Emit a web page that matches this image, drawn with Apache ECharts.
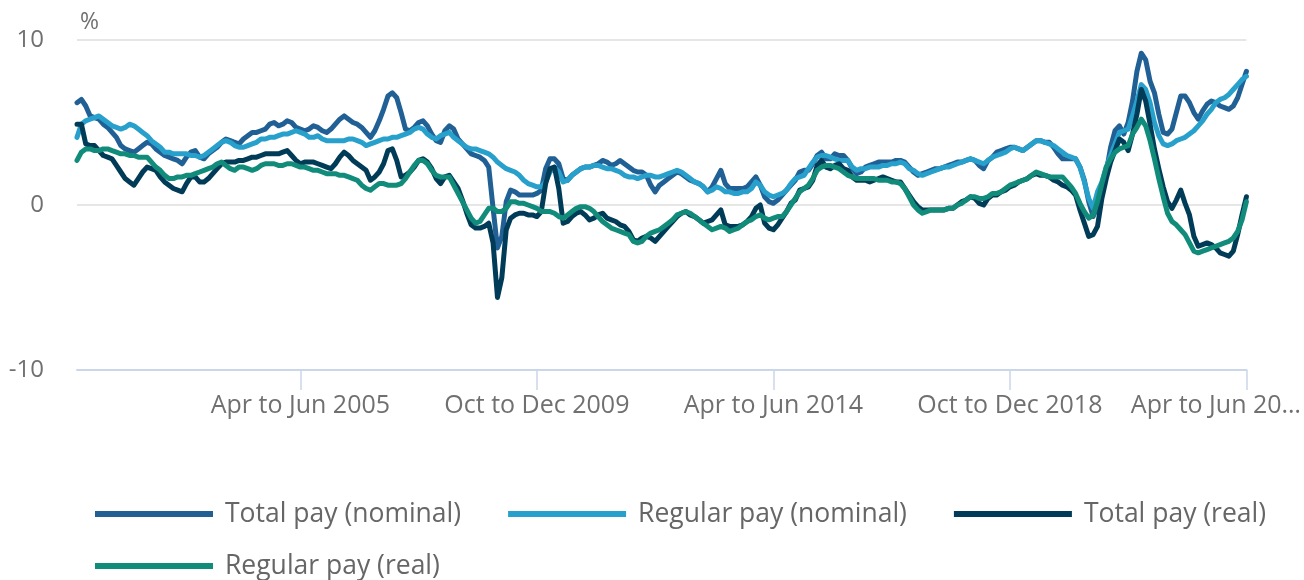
<!DOCTYPE html>
<html>
<head>
<meta charset="utf-8">
<title>Earnings growth</title>
<script src="https://cdn.jsdelivr.net/npm/echarts@6/dist/echarts.min.js"></script>
<style>
  html, body { margin: 0; padding: 0; background: #fff; }
  #chart { width: 1304px; height: 580px; }
</style>
</head>
<body>
<div id="chart"></div>
<script>
// 月份与起止年份（三个月滚动期，从 Jan to Mar 2001 到 Apr to Jun 2023）
var months = ['Jan', 'Feb', 'Mar', 'Apr', 'May', 'Jun', 'Jul', 'Aug', 'Sep', 'Oct', 'Nov', 'Dec'];
var firstYear = 2001;
var periodCount = 268;

// 各序列（%），每行 12 个月
var totalNominal = [
  6.2, 6.4, 6.0, 5.4, 5.3, 5.2, 4.9, 4.7, 4.4, 4.1, 3.6, 3.4,
  3.3, 3.2, 3.4, 3.6, 3.8, 3.7, 3.4, 3.2, 3.0, 2.9, 2.8, 2.7,
  2.5, 2.9, 3.2, 3.3, 2.9, 2.8, 3.1, 3.3, 3.5, 3.8, 4.0, 3.9,
  3.8, 3.7, 4.0, 4.2, 4.4, 4.4, 4.5, 4.6, 4.9, 5.0, 4.8, 4.9,
  5.1, 5.0, 4.7, 4.6, 4.5, 4.6, 4.8, 4.7, 4.5, 4.4, 4.6, 4.9,
  5.2, 5.4, 5.2, 5.0, 4.9, 4.7, 4.4, 4.1, 4.5, 5.1, 5.8, 6.6,
  6.8, 6.5, 5.6, 4.6, 4.5, 4.7, 5.0, 5.1, 4.8, 4.3, 3.9, 3.8,
  4.5, 4.8, 4.6, 4.0, 3.7, 3.4, 3.1, 3.0, 2.9, 2.7, 2.3, -0.2,
  -2.6, -1.9, 0.2, 0.9, 0.8, 0.6, 0.6, 0.6, 0.6, 0.7, 0.9, 2.2,
  2.8, 2.8, 2.5, 1.6, 1.5, 1.8, 2.0, 2.2, 2.3, 2.3, 2.4, 2.5,
  2.7, 2.6, 2.4, 2.5, 2.7, 2.5, 2.3, 2.1, 2.0, 2.0, 1.8, 1.2,
  0.8, 1.2, 1.4, 1.6, 1.8, 2.0, 1.9, 1.7, 1.5, 1.4, 1.3, 1.1,
  0.8, 1.1, 1.6, 2.1, 1.3, 1.0, 1.0, 1.0, 1.0, 1.1, 1.4, 1.7,
  1.2, 0.5, 0.2, 0.1, 0.3, 0.6, 0.9, 1.2, 1.5, 2.0, 2.1, 2.1,
  2.5, 3.0, 3.2, 2.8, 2.8, 3.1, 3.0, 3.0, 2.7, 2.2, 1.9, 2.0,
  2.3, 2.4, 2.5, 2.6, 2.6, 2.6, 2.6, 2.7, 2.7, 2.6, 2.3, 2.0,
  1.8, 1.9, 2.0, 2.1, 2.2, 2.2, 2.3, 2.4, 2.5, 2.6, 2.6, 2.7,
  2.8, 2.7, 2.4, 2.2, 2.7, 2.9, 3.2, 3.3, 3.4, 3.5, 3.5, 3.4,
  3.3, 3.5, 3.7, 3.9, 3.9, 3.8, 3.8, 3.5, 3.1, 2.8, 2.8, 2.8,
  2.8, 2.3, 1.5, 0.2, -0.7, -0.1, 0.8, 2.0, 3.5, 4.5, 4.8, 4.3,
  5.0, 6.3, 8.1, 9.2, 8.8, 7.5, 6.8, 5.5, 4.4, 4.3, 4.6, 5.6,
  6.6, 6.6, 6.2, 5.6, 5.2, 5.7, 6.1, 6.3, 6.2, 6.0, 5.9, 5.8,
  6.0, 6.5, 7.3, 8.1
];
var regularNominal = [
  4.1, 4.9, 5.1, 5.2, 5.3, 5.4, 5.2, 5.0, 4.8, 4.7, 4.6, 4.7,
  4.9, 4.8, 4.6, 4.4, 4.2, 3.9, 3.7, 3.5, 3.2, 3.2, 3.1, 3.1,
  3.1, 3.1, 3.0, 3.0, 2.9, 3.0, 3.2, 3.4, 3.6, 3.8, 3.9, 3.8,
  3.6, 3.5, 3.5, 3.6, 3.7, 3.8, 4.0, 4.0, 4.1, 4.1, 4.2, 4.3,
  4.3, 4.4, 4.5, 4.4, 4.3, 4.1, 4.1, 4.2, 4.0, 3.9, 3.9, 3.9,
  3.9, 3.9, 4.0, 4.0, 3.9, 3.8, 3.6, 3.7, 3.8, 3.9, 4.0, 4.0,
  4.1, 4.1, 4.2, 4.3, 4.4, 4.6, 4.7, 4.6, 4.3, 4.1, 4.0, 4.2,
  4.3, 4.4, 4.1, 3.9, 3.7, 3.5, 3.4, 3.4, 3.3, 3.2, 3.1, 2.9,
  2.6, 2.4, 2.2, 2.1, 2.0, 1.8, 1.5, 1.3, 1.2, 1.1, 1.1, 1.4,
  2.0, 2.3, 2.0, 1.4, 1.5, 1.8, 2.0, 2.2, 2.3, 2.3, 2.4, 2.4,
  2.3, 2.2, 2.2, 2.1, 2.0, 1.8, 1.7, 1.7, 1.6, 1.7, 1.8, 1.8,
  1.7, 1.7, 1.8, 1.9, 2.0, 2.1, 2.0, 1.8, 1.6, 1.4, 1.3, 1.1,
  0.8, 0.9, 1.1, 1.0, 0.8, 0.8, 0.7, 0.7, 0.8, 0.8, 1.0, 1.4,
  1.2, 0.8, 0.6, 0.5, 0.6, 0.7, 0.9, 1.3, 1.6, 1.7, 1.8, 2.2,
  2.6, 2.9, 3.0, 3.0, 2.9, 2.8, 2.7, 2.7, 2.7, 2.3, 2.1, 2.2,
  2.2, 2.3, 2.3, 2.3, 2.4, 2.4, 2.5, 2.5, 2.6, 2.5, 2.2, 2.1,
  1.9, 1.8, 1.9, 2.0, 2.1, 2.2, 2.3, 2.3, 2.4, 2.5, 2.6, 2.7,
  2.8, 2.7, 2.6, 2.5, 2.7, 2.9, 3.0, 3.1, 3.2, 3.4, 3.5, 3.4,
  3.3, 3.5, 3.7, 3.9, 3.9, 3.8, 3.7, 3.6, 3.4, 3.2, 3.0, 2.9,
  2.8, 2.3, 1.4, 0.4, -0.2, 0.8, 1.4, 2.3, 3.0, 3.7, 4.4, 4.5,
  4.6, 5.4, 6.3, 7.3, 7.0, 6.2, 5.0, 4.2, 3.7, 3.6, 3.7, 3.9,
  4.0, 4.1, 4.3, 4.5, 4.8, 5.1, 5.5, 5.8, 6.2, 6.4, 6.5, 6.7,
  7.0, 7.3, 7.6, 7.8
];
var totalReal = [
  4.9, 4.9, 3.7, 3.6, 3.6, 3.3, 3.0, 2.9, 2.8, 2.4, 2.0, 1.6,
  1.4, 1.2, 1.6, 2.0, 2.3, 2.2, 2.1, 1.7, 1.4, 1.2, 1.0, 0.9,
  0.8, 1.3, 1.7, 1.7, 1.4, 1.4, 1.6, 1.9, 2.2, 2.5, 2.6, 2.6,
  2.6, 2.7, 2.7, 2.8, 2.9, 2.9, 3.0, 3.1, 3.1, 3.1, 3.1, 3.2,
  3.3, 3.0, 2.7, 2.5, 2.6, 2.6, 2.6, 2.5, 2.4, 2.3, 2.2, 2.5,
  2.9, 3.2, 3.0, 2.7, 2.5, 2.3, 2.1, 1.5, 1.7, 2.0, 2.5, 3.3,
  3.4, 2.7, 1.7, 1.8, 2.0, 2.3, 2.7, 2.8, 2.6, 2.2, 1.6, 1.3,
  1.7, 1.8, 1.4, 1.0, 0.3, -0.5, -1.2, -1.4, -1.4, -1.3, -1.1, -2.3,
  -5.6, -4.4, -1.5, -0.8, -0.6, -0.5, -0.5, -0.6, -0.6, -0.7, -0.4, 1.3,
  2.2, 2.3, 1.0, -1.1, -1.0, -0.7, -0.5, -0.4, -0.6, -0.9, -0.8, -0.6,
  -0.5, -0.8, -0.9, -1.0, -1.2, -1.3, -1.6, -2.1, -2.2, -2.0, -1.9, -2.0,
  -2.2, -1.9, -1.6, -1.3, -1.0, -0.7, -0.5, -0.4, -0.6, -0.7, -0.9, -1.1,
  -1.0, -0.9, -0.6, -0.3, -1.2, -1.3, -1.3, -1.3, -1.2, -1.0, -0.7, -0.2,
  0.0, -1.1, -1.4, -1.5, -1.2, -0.8, -0.4, 0.1, 0.3, 0.9, 1.0, 1.1,
  1.5, 2.4, 2.7, 2.3, 2.2, 2.4, 2.5, 2.2, 2.1, 1.7, 1.5, 1.5,
  1.5, 1.4, 1.5, 1.6, 1.7, 1.6, 1.5, 1.4, 1.4, 1.0, 0.6, 0.2,
  -0.1, -0.3, -0.3, -0.3, -0.3, -0.3, -0.3, -0.2, -0.2, 0.0, 0.2, 0.3,
  0.5, 0.4, 0.1, 0.0, 0.4, 0.6, 0.6, 0.8, 0.9, 1.1, 1.2, 1.4,
  1.5, 1.6, 1.8, 1.9, 1.8, 1.8, 1.7, 1.5, 1.4, 1.2, 1.1, 0.9,
  0.6, -0.3, -1.1, -1.9, -1.8, -1.3, 0.4, 1.6, 2.6, 3.3, 4.0, 3.8,
  3.3, 4.3, 5.5, 7.0, 6.3, 4.9, 3.4, 2.2, 1.1, 0.2, -0.2, 0.3,
  0.9, 0.1, -0.6, -1.9, -2.5, -2.4, -2.3, -2.4, -2.6, -2.9, -3.0, -3.1,
  -2.8, -1.8, -0.6, 0.5
];
var regularReal = [
  2.7, 3.2, 3.4, 3.4, 3.3, 3.3, 3.4, 3.4, 3.3, 3.2, 3.1, 3.1,
  3.0, 3.0, 2.9, 2.9, 2.9, 2.6, 2.3, 2.1, 1.8, 1.6, 1.6, 1.7,
  1.7, 1.8, 1.8, 1.9, 2.0, 2.1, 2.2, 2.3, 2.5, 2.6, 2.4, 2.2,
  2.1, 2.3, 2.3, 2.2, 2.1, 2.2, 2.4, 2.5, 2.5, 2.5, 2.4, 2.4,
  2.5, 2.5, 2.4, 2.3, 2.3, 2.2, 2.1, 2.1, 2.0, 1.9, 1.9, 1.9,
  1.8, 1.8, 1.7, 1.6, 1.5, 1.2, 1.0, 0.9, 1.1, 1.3, 1.3, 1.2,
  1.2, 1.2, 1.3, 1.6, 2.0, 2.4, 2.7, 2.7, 2.5, 2.1, 1.8, 1.7,
  1.7, 1.7, 1.2, 0.7, 0.2, -0.3, -0.8, -1.1, -1.0, -0.6, -0.2, -0.2,
  -0.4, -0.4, -0.2, 0.2, 0.2, 0.1, 0.1, 0.0, -0.1, -0.2, -0.4, -0.4,
  -0.4, -0.5, -0.7, -0.8, -0.6, -0.4, -0.2, -0.1, -0.1, -0.2, -0.4, -0.7,
  -1.0, -1.2, -1.4, -1.5, -1.6, -1.7, -1.8, -2.2, -2.3, -2.2, -1.9, -1.7,
  -1.6, -1.5, -1.3, -1.1, -0.9, -0.6, -0.5, -0.4, -0.5, -0.7, -0.9, -1.1,
  -1.3, -1.5, -1.4, -1.3, -1.4, -1.6, -1.5, -1.4, -1.2, -1.0, -0.9, -0.7,
  -0.6, -0.8, -0.9, -0.8, -0.7, -0.7, -0.4, 0.0, 0.4, 0.8, 1.0, 1.2,
  1.6, 2.1, 2.3, 2.4, 2.4, 2.3, 2.2, 2.0, 1.8, 1.7, 1.6, 1.6,
  1.6, 1.6, 1.6, 1.5, 1.5, 1.5, 1.4, 1.4, 1.3, 1.0, 0.5, 0.0,
  -0.3, -0.5, -0.4, -0.3, -0.3, -0.3, -0.3, -0.2, -0.2, 0.0, 0.1, 0.3,
  0.5, 0.5, 0.4, 0.4, 0.5, 0.7, 0.7, 0.8, 1.0, 1.2, 1.3, 1.4,
  1.5, 1.6, 1.8, 2.0, 1.9, 1.8, 1.7, 1.7, 1.7, 1.7, 1.4, 1.1,
  0.7, 0.1, -0.4, -0.8, -0.6, 0.2, 1.3, 2.3, 2.8, 3.2, 3.4, 3.5,
  3.6, 4.3, 4.7, 5.2, 4.8, 3.9, 2.8, 1.6, 0.5, -0.5, -1.0, -1.2,
  -1.5, -1.8, -2.3, -2.8, -2.9, -2.8, -2.7, -2.6, -2.5, -2.4, -2.3, -2.2,
  -2.0, -1.6, -0.9, 0.2
];

var seriesNames = ['Total pay (nominal)', 'Regular pay (nominal)', 'Total pay (real)', 'Regular pay (real)'];
var seriesColors = ['#206095', '#27a0cc', '#003c57', '#118c7b'];
var seriesData = [totalNominal, regularNominal, totalReal, regularReal];

// 生成时段标签
var categories = [];
for (var k = 0; k < periodCount; k++) {
  var endM = 2 + k; // 结束月份（从 2001 年 3 月起）
  var startM = endM - 2;
  var endY = firstYear + Math.floor(endM / 12);
  var startY = firstYear + Math.floor(startM / 12);
  var label;
  if (endY === startY) {
    label = months[startM % 12] + ' to ' + months[endM % 12] + ' ' + endY;
  } else {
    label = months[startM % 12] + ' ' + startY + ' to ' + months[endM % 12] + ' ' + endY;
  }
  categories.push(label);
}

// 每 54 个月一个刻度，从 Apr to Jun 2005 开始
var tickStart = 51;
var tickStep = 54;
function showTick(index) {
  return index >= tickStart && (index - tickStart) % tickStep === 0;
}

var chart = echarts.init(document.getElementById('chart'), null, { renderer: 'canvas' });

var series = [];
for (var s = 0; s < seriesNames.length; s++) {
  series.push({
    name: seriesNames[s],
    type: 'line',
    data: seriesData[s],
    symbol: 'none',
    showSymbol: false,
    smooth: false,
    color: seriesColors[s],
    lineStyle: { width: 5, color: seriesColors[s], join: 'round', cap: 'round' },
    emphasis: { disabled: true }
  });
}

var legendBase = {
  icon: 'rect',
  itemWidth: 118,
  itemHeight: 6,
  itemGap: 47,
  padding: 0,
  selectedMode: false,
  orient: 'horizontal',
  textStyle: { fontFamily: 'Open Sans', fontSize: 26.5, color: '#666666', lineHeight: 30, padding: [0, 0, 0, 7] }
};

var option = {
  animation: false,
  backgroundColor: '#ffffff',
  textStyle: { fontFamily: 'Open Sans' },
  grid: { left: 77, right: 55, top: 40, bottom: 210 },
  legend: [
    Object.assign({}, legendBase, { left: 95, top: 499, data: seriesNames.slice(0, 3) }),
    Object.assign({}, legendBase, { left: 95, top: 551, data: seriesNames.slice(3) })
  ],
  xAxis: {
    type: 'category',
    boundaryGap: false,
    data: categories,
    axisLine: { show: true, onZero: false, lineStyle: { color: '#ccd6eb', width: 2 } },
    axisTick: { show: true, length: 20, interval: showTick, lineStyle: { color: '#ccd6eb', width: 1.5 } },
    splitLine: { show: false },
    axisLabel: {
      interval: showTick,
      margin: 23,
      fontSize: 25,
      color: '#707070',
      formatter: function (value, index) {
        if (index === periodCount - 1) {
          return '{last|Apr to Jun 20…}';
        }
        return value;
      },
      rich: {
        last: { fontSize: 25, color: '#707070', fontFamily: 'Open Sans', padding: [0, 61, 0, 0] }
      }
    }
  },
  yAxis: {
    type: 'value',
    min: -10,
    max: 10,
    interval: 10,
    name: '%',
    nameLocation: 'end',
    nameGap: 6,
    nameTextStyle: { align: 'left', fontSize: 23, color: '#707070', padding: [0, 0, 0, 3] },
    axisLine: { show: false },
    axisTick: { show: false },
    axisLabel: { margin: 33, fontSize: 24, color: '#707070' },
    splitLine: { show: true, lineStyle: { color: '#e6e6e6', width: 2 } }
  },
  series: series
};

chart.setOption(option);
</script>
</body>
</html>
